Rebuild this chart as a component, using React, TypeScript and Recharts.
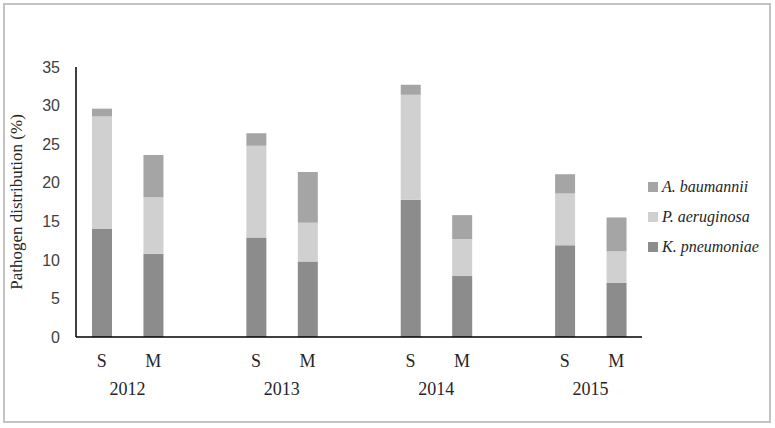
import React from "react";
import { BarChart, Bar, XAxis, YAxis } from "recharts";

// years and the two groups shown under each year
const years = ["2012", "2013", "2014", "2015"];
const groups = ["S", "M"];

// values in order 2012 S, 2012 M, 2013 S, 2013 M, ...
const kPneumoniae = [14.0, 10.8, 12.9, 9.8, 17.8, 7.9, 11.9, 7.0];
const pAeruginosa = [14.6, 7.3, 11.9, 5.0, 13.6, 4.8, 6.7, 4.1];
const aBaumannii = [1.0, 5.5, 1.6, 6.6, 1.3, 3.1, 2.5, 4.4];

const yTicks = [0, 5, 10, 15, 20, 25, 30, 35];

const series = [
  { key: "kpn", name: "K. pneumoniae", color: "#8c8c8c" },
  { key: "pae", name: "P. aeruginosa", color: "#d0d0d0" },
  { key: "aba", name: "A. baumannii", color: "#a5a5a5" },
];

// build rows, with an empty slot between years
const rows: any[] = [];
years.forEach((yr, yi) => {
  groups.forEach((g, gi) => {
    const i = yi * groups.length + gi;
    rows.push({
      key: `${yr}|${g}`,
      kpn: kPneumoniae[i],
      pae: pAeruginosa[i],
      aba: aBaumannii[i],
    });
  });
  if (yi < years.length - 1) rows.push({ key: `gap${yi}` });
});

const serif = "'Liberation Serif', 'Times New Roman', serif";

// S / M under each bar, year under each pair
const XTick = (props: any) => {
  const { x, y, payload } = props;
  const val: string = payload.value;
  if (!val.includes("|")) return null;
  const [yr, g] = val.split("|");
  const half = payload.offset || 25.7;
  return (
    <g>
      <text x={x} y={y + 22} textAnchor="middle" fontFamily={serif} fontSize={18} fill="#262626">
        {g}
      </text>
      {g === "M" && (
        <text x={x - half} y={y + 50} textAnchor="middle" fontFamily={serif} fontSize={18} fill="#262626">
          {yr}
        </text>
      )}
    </g>
  );
};

export default function App() {
  return (
    <div style={{ position: "absolute", left: 0, top: 0, width: 775, height: 428, background: "#fff" }}>
      <div
        style={{
          position: "absolute",
          left: 3,
          top: 3,
          width: 768,
          height: 420,
          boxSizing: "border-box",
          border: "2px solid #c3c3c3",
        }}
      />
      <div style={{ position: "absolute", left: 0, top: 0 }}>
        <BarChart
          width={775}
          height={428}
          data={rows}
          margin={{ top: 67, right: 133, left: 16, bottom: 31 }}
        >
          <XAxis
            dataKey="key"
            interval={0}
            height={60}
            tickLine={false}
            axisLine={{ stroke: "#000", strokeWidth: 1.5 }}
            tick={<XTick />}
          />
          <YAxis
            width={60}
            domain={[0, 35]}
            ticks={yTicks}
            interval={0}
            tickLine={false}
            tickSize={0}
            tickMargin={16}
            axisLine={{ stroke: "#000", strokeWidth: 1.5 }}
            tick={{ fontFamily: "'Liberation Sans', Arial, sans-serif", fontSize: 16, fill: "#404040" }}
            label={{
              value: "Pathogen distribution (%)",
              angle: -90,
              position: "insideLeft",
              offset: 0,
              style: { fontFamily: serif, fontSize: 17, fill: "#262626", textAnchor: "middle" },
            }}
          />
          {series.map((s) => (
            <Bar key={s.key} dataKey={s.key} name={s.name} stackId="a" fill={s.color} barSize={20} isAnimationActive={false} />
          ))}
        </BarChart>
      </div>
      <div
        style={{
          position: "absolute",
          left: 648,
          top: 172,
          fontFamily: serif,
          fontStyle: "italic",
          fontSize: 16,
          color: "#262626",
        }}
      >
        {[...series].reverse().map((s) => (
          <div key={s.key} style={{ display: "flex", alignItems: "center", height: 30 }}>
            <span style={{ width: 10, height: 10, background: s.color, marginRight: 4, display: "inline-block" }} />
            <span>{s.name}</span>
          </div>
        ))}
      </div>
    </div>
  );
}
